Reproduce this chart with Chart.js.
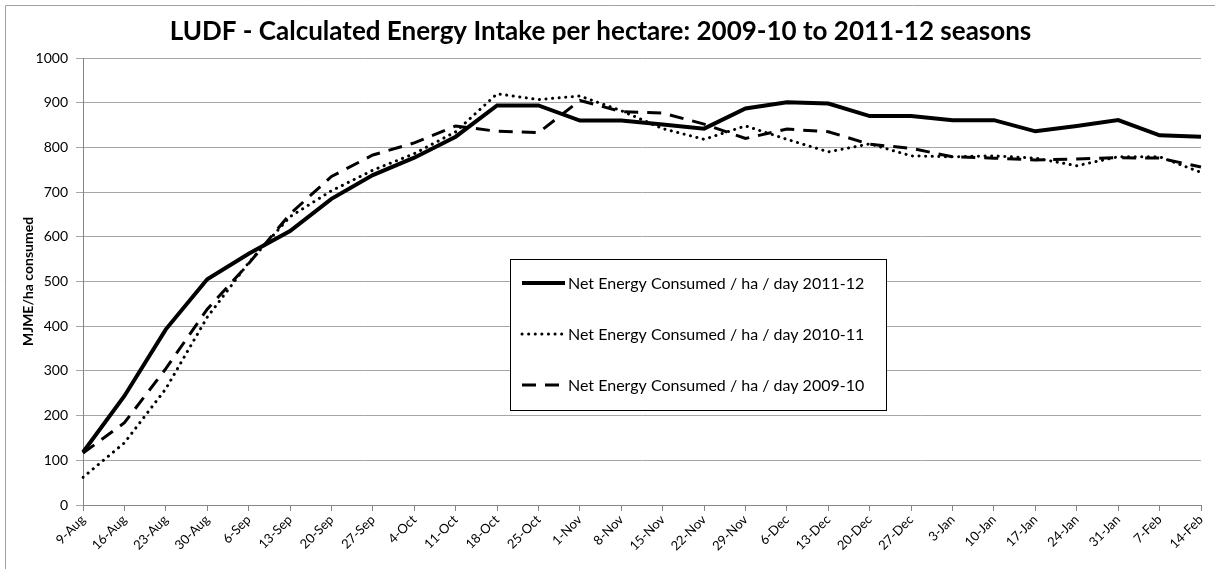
<!DOCTYPE html>
<html>
<head>
<meta charset="utf-8">
<script src="https://cdn.jsdelivr.net/npm/chart.js@4.4.1/dist/chart.umd.min.js"></script>
<style>
  html, body { margin: 0; padding: 0; background: #fff; }
  #wrap { position: relative; width: 1223px; height: 569px; }
</style>
</head>
<body>
<div id="wrap"><canvas id="energyChart" width="1223" height="569"></canvas></div>
<script>
const weeks = ['9-Aug','16-Aug','23-Aug','30-Aug','6-Sep','13-Sep','20-Sep','27-Sep','4-Oct','11-Oct',
    '18-Oct','25-Oct','1-Nov','8-Nov','15-Nov','22-Nov','29-Nov','6-Dec','13-Dec','20-Dec',
    '27-Dec','3-Jan','10-Jan','17-Jan','24-Jan','31-Jan','7-Feb','14-Feb'];

const season2011 = [118, 244, 393, 505, 562, 613, 685, 738, 777, 824, 894, 894, 860, 860,
    851, 842, 887, 901, 898, 870, 870, 861, 861, 836, 848, 861, 827, 824];
const season2010 = [62, 139, 260, 420, 542, 645, 703, 749, 786, 835, 920, 907, 915, 882,
    842, 818, 848, 818, 790, 808, 781, 779, 781, 776, 759, 779, 779, 744];
const season2009 = [116, 184, 305, 438, 540, 651, 735, 783, 810, 848, 836, 833, 905, 880,
    877, 852, 820, 841, 835, 807, 798, 779, 776, 772, 774, 777, 776, 756];

const seriesNames = [
    'Net Energy Consumed / ha / day 2011-12',
    'Net Energy Consumed / ha / day 2010-11',
    'Net Energy Consumed / ha / day 2009-10'
];

const yTicks = [0, 100, 200, 300, 400, 500, 600, 700, 800, 900, 1000];

const gridGrey = '#a6a6a6';
const axisGrey = '#868686';

// white page + thin outer frame
const frame = {
    id: 'frame',
    beforeDraw(chart) {
        const ctx = chart.ctx;
        ctx.save();
        ctx.fillStyle = '#fff';
        ctx.fillRect(0, 0, chart.width, chart.height);
        ctx.strokeStyle = '#a0a0a0';
        ctx.lineWidth = 1;
        ctx.beginPath();
        ctx.moveTo(5.5, chart.height);
        ctx.lineTo(5.5, 5.5);
        ctx.lineTo(1215, 5.5);
        ctx.stroke();
        ctx.restore();
    }
};

// boxed legend sitting inside the plot
const boxLegend = {
    id: 'boxLegend',
    afterDatasetsDraw(chart) {
        const ctx = chart.ctx;
        const x = 510.5, y = 259.5, w = 376, h = 151;
        ctx.save();
        ctx.fillStyle = '#fff';
        ctx.fillRect(x, y, w, h);
        ctx.strokeStyle = '#000';
        ctx.lineWidth = 1;
        ctx.strokeRect(x, y, w, h);
        ctx.font = '16px Lato';
        ctx.textBaseline = 'middle';
        ctx.fillStyle = '#000';
        chart.data.datasets.forEach((ds, i) => {
            const ry = 283 + i * 51;
            ctx.save();
            ctx.strokeStyle = ds.borderColor;
            ctx.lineWidth = ds.borderWidth;
            ctx.lineCap = ds.borderCapStyle || 'butt';
            ctx.setLineDash(ds.borderDash || []);
            ctx.beginPath();
            ctx.moveTo(522, ry);
            ctx.lineTo(565, ry);
            ctx.stroke();
            ctx.restore();
            ctx.fillText(ds.label, 568, ry + 1);
        });
        ctx.restore();
    }
};

new Chart(document.getElementById('energyChart'), {
    type: 'line',
    data: {
        labels: weeks,
        datasets: [{
            label: seriesNames[0],
            data: season2011,
            borderColor: '#000',
            borderWidth: 4,
            pointRadius: 0,
            tension: 0,
        }, {
            label: seriesNames[1],
            data: season2010,
            borderColor: '#000',
            borderWidth: 3,
            borderDash: [0.1, 6.5],
            borderCapStyle: 'round',
            pointRadius: 0,
            tension: 0,
        }, {
            label: seriesNames[2],
            data: season2009,
            borderColor: '#000',
            borderWidth: 3,
            borderDash: [14, 9],
            pointRadius: 0,
            tension: 0,
        }]
    },
    options: {
        responsive: false,
        animation: false,
        layout: { padding: { left: 0, top: 0, right: 22, bottom: 0 } },
        plugins: {
            legend: { display: false },
            tooltip: { enabled: false },
            title: {
                display: true,
                text: 'LUDF - Calculated Energy Intake per hectare: 2009-10 to 2011-12 seasons',
                color: '#000',
                font: { family: 'Lato', size: 26, weight: 'bold' },
                padding: { top: 16, bottom: 10.8 }
            }
        },
        scales: {
            x: {
                offset: false,
                grid: { drawOnChartArea: false, color: axisGrey, tickLength: 6 },
                border: { color: axisGrey },
                ticks: {
                    autoSkip: false, minRotation: 45, maxRotation: 45,
                    color: '#000', font: { family: 'Lato', size: 13 }, padding: 1
                },
                afterFit: s => { s.height = 64; }
            },
            y: {
                min: 0, max: 1000,
                afterBuildTicks: s => { s.ticks = yTicks.map(v => ({ value: v })); },
                grid: { color: gridGrey, tickLength: 7 },
                border: { color: axisGrey },
                ticks: {
                    color: '#000', font: { family: 'Lato', size: 14 }, padding: 8,
                    callback: v => String(v)
                },
                title: {
                    display: true,
                    text: 'MJME/ha consumed',
                    color: '#000',
                    font: { family: 'Lato', size: 14, weight: 'bold' },
                    padding: { top: 20, bottom: 0 }
                },
                afterFit: s => { s.width = 83; }
            }
        }
    },
    plugins: [frame, boxLegend]
});
</script>
</body>
</html>
